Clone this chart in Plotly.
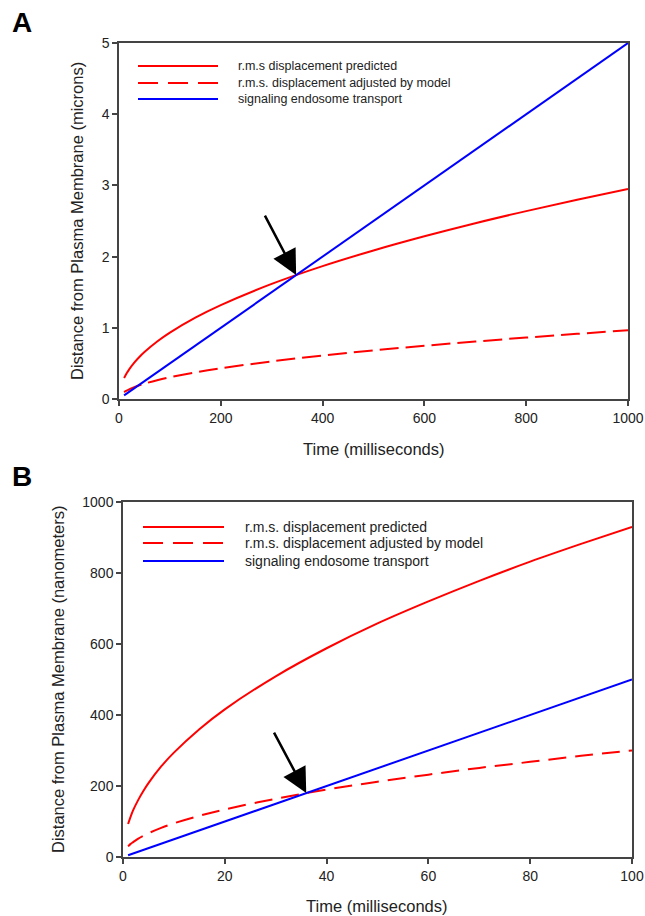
import plotly.graph_objects as go

# ---------------- Data ----------------
# Panel A: time in milliseconds, distance in microns
a_time = [10, 15, 20, 30, 40, 50, 75, 100, 150, 200, 300, 400, 500, 600, 700, 800, 900, 1000]
a_rms_pred = [0.295, 0.361, 0.417, 0.511, 0.590, 0.660, 0.808, 0.933, 1.143, 1.319, 1.616, 1.866,
              2.086, 2.285, 2.469, 2.639, 2.799, 2.950]
a_rms_adj = [0.097, 0.118, 0.136, 0.167, 0.193, 0.216, 0.264, 0.305, 0.374, 0.431, 0.528, 0.610,
             0.682, 0.747, 0.807, 0.863, 0.915, 0.965]
a_endo_time = [10, 1000]
a_endo = [0.05, 5.0]
a_cross = (348, 1.74)

# Panel B: time in milliseconds, distance in nanometers
b_time = [1, 1.5, 2, 3, 4, 5, 7.5, 10, 15, 20, 30, 40, 50, 60, 70, 80, 90, 100]
b_rms_pred = [93, 114, 132, 161, 186, 208, 255, 294, 360, 416, 509, 588, 658, 720, 778, 832, 882, 930]
b_rms_adj = [30, 37, 42, 52, 60, 67, 82, 95, 116, 134, 164, 190, 212, 232, 251, 268, 285, 300]
b_endo_time = [1, 100]
b_endo = [5, 500]
b_cross = (36, 180)

a_xticks = [0, 200, 400, 600, 800, 1000]
a_yticks = [0, 1, 2, 3, 4, 5]
b_xticks = [0, 20, 40, 60, 80, 100]
b_yticks = [0, 200, 400, 600, 800, 1000]

legend_a = ["r.m.s displacement predicted", "r.m.s. displacement adjusted by model", "signaling endosome transport"]
legend_b = ["r.m.s. displacement predicted", "r.m.s. displacement adjusted by model", "signaling endosome transport"]

# ---------------- Figure ----------------
W, H = 645, 916
FONT = "Liberation Sans, Arial, sans-serif"
RED = "#ff0000"
BLUE = "#0000ff"
AXC = "#444444"

def px_x(p):
    return p / W

def px_y(p):
    return 1 - p / H

fig = go.Figure()

# Panel A traces
fig.add_trace(go.Scatter(x=a_time, y=a_rms_pred, mode="lines", line=dict(color=RED, width=2, shape="spline"),
                         xaxis="x", yaxis="y", showlegend=False))
fig.add_trace(go.Scatter(x=a_time, y=a_rms_adj, mode="lines", line=dict(color=RED, width=2, shape="spline", dash="19px,7px"),
                         xaxis="x", yaxis="y", showlegend=False))
fig.add_trace(go.Scatter(x=a_endo_time, y=a_endo, mode="lines", line=dict(color=BLUE, width=2),
                         xaxis="x", yaxis="y", showlegend=False))

# Panel B traces
fig.add_trace(go.Scatter(x=b_time, y=b_rms_pred, mode="lines", line=dict(color=RED, width=2, shape="spline"),
                         xaxis="x2", yaxis="y2", showlegend=False))
fig.add_trace(go.Scatter(x=b_time, y=b_rms_adj, mode="lines", line=dict(color=RED, width=2, shape="spline", dash="18px,9px"),
                         xaxis="x2", yaxis="y2", showlegend=False))
fig.add_trace(go.Scatter(x=b_endo_time, y=b_endo, mode="lines", line=dict(color=BLUE, width=2),
                         xaxis="x2", yaxis="y2", showlegend=False))

axis_common = dict(showline=True, linecolor=AXC, linewidth=1.5, mirror=True, ticks="outside",
                   ticklen=5, tickwidth=1.5, tickcolor=AXC, showgrid=False, zeroline=False,
                   automargin=False,
                   tickfont=dict(family=FONT, size=14, color="#222222"))

fig.update_layout(
    width=W, height=H, margin=dict(l=0, r=0, t=0, b=0),
    paper_bgcolor="white", plot_bgcolor="white",
    xaxis=dict(domain=[px_x(119), px_x(628)], range=[0, 1000], tickvals=a_xticks, anchor="y", **axis_common),
    yaxis=dict(domain=[px_y(399), px_y(43)], range=[0, 5], tickvals=a_yticks, anchor="x", **axis_common),
    xaxis2=dict(domain=[px_x(123), px_x(632)], range=[0, 100], tickvals=b_xticks, anchor="y2", **axis_common),
    yaxis2=dict(domain=[px_y(857), px_y(502)], range=[0, 1000], tickvals=b_yticks, anchor="x2", **axis_common),
)

annotations = []
shapes = []
TXT = "#222222"

# Panel letters
annotations.append(dict(text="<b>A</b>", x=px_x(22), y=px_y(22), xref="paper", yref="paper", showarrow=False,
                        font=dict(family=FONT, size=28, color="black"), xanchor="center", yanchor="middle"))
annotations.append(dict(text="<b>B</b>", x=px_x(22), y=px_y(477), xref="paper", yref="paper", showarrow=False,
                        font=dict(family=FONT, size=28, color="black"), xanchor="center", yanchor="middle"))

# Axis titles
annotations.append(dict(text="Time (milliseconds)", x=px_x(374), y=px_y(449), xref="paper", yref="paper",
                        showarrow=False, font=dict(family=FONT, size=16.5, color=TXT), xanchor="center", yanchor="middle"))
annotations.append(dict(text="Distance from Plasma Membrane (microns)", x=px_x(77), y=px_y(221), xref="paper", yref="paper",
                        showarrow=False, textangle=-90, font=dict(family=FONT, size=16.5, color=TXT),
                        xanchor="center", yanchor="middle"))
annotations.append(dict(text="Time (milliseconds)", x=px_x(377), y=px_y(906), xref="paper", yref="paper",
                        showarrow=False, font=dict(family=FONT, size=16.5, color=TXT), xanchor="center", yanchor="middle"))
annotations.append(dict(text="Distance from Plasma Membrane (nanometers)", x=px_x(58), y=px_y(679), xref="paper", yref="paper",
                        showarrow=False, textangle=-90, font=dict(family=FONT, size=16.5, color=TXT),
                        xanchor="center", yanchor="middle"))

# Legends (drawn manually)
def legend(x0, x1, xt, ys, labels, dashes, fsize):
    colors = [RED, RED, BLUE]
    for yy, lab, dsh, col in zip(ys, labels, dashes, colors):
        shapes.append(dict(type="line", xref="paper", yref="paper", x0=px_x(x0), x1=px_x(x1),
                           y0=px_y(yy), y1=px_y(yy), line=dict(color=col, width=2, dash=dsh)))
        annotations.append(dict(text=lab, x=px_x(xt), y=px_y(yy), xref="paper", yref="paper", showarrow=False,
                                xanchor="left", yanchor="middle", font=dict(family=FONT, size=fsize, color=TXT)))

legend(138, 218, 236, [66, 83, 99], legend_a, ["solid", "20px,10px", "solid"], 12.5)
legend(143, 224, 243, [527, 543, 561], legend_b, ["solid", "20px,10px", "solid"], 14)

# Arrows pointing at the crossing points
annotations.append(dict(x=a_cross[0], y=a_cross[1], xref="x", yref="y", ax=-32, ay=-61, showarrow=True,
                        arrowhead=2, arrowsize=2.0, arrowwidth=2.5, arrowcolor="black", text=""))
annotations.append(dict(x=b_cross[0], y=b_cross[1], xref="x2", yref="y2", ax=-33, ay=-62, showarrow=True,
                        arrowhead=2, arrowsize=2.0, arrowwidth=2.5, arrowcolor="black", text=""))

fig.update_layout(annotations=annotations, shapes=shapes)
fig.write_html("out.html", config={"displayModeBar": False},
               post_script="document.body.style.margin='0';document.body.style.padding='0';document.body.style.overflow='hidden';")
